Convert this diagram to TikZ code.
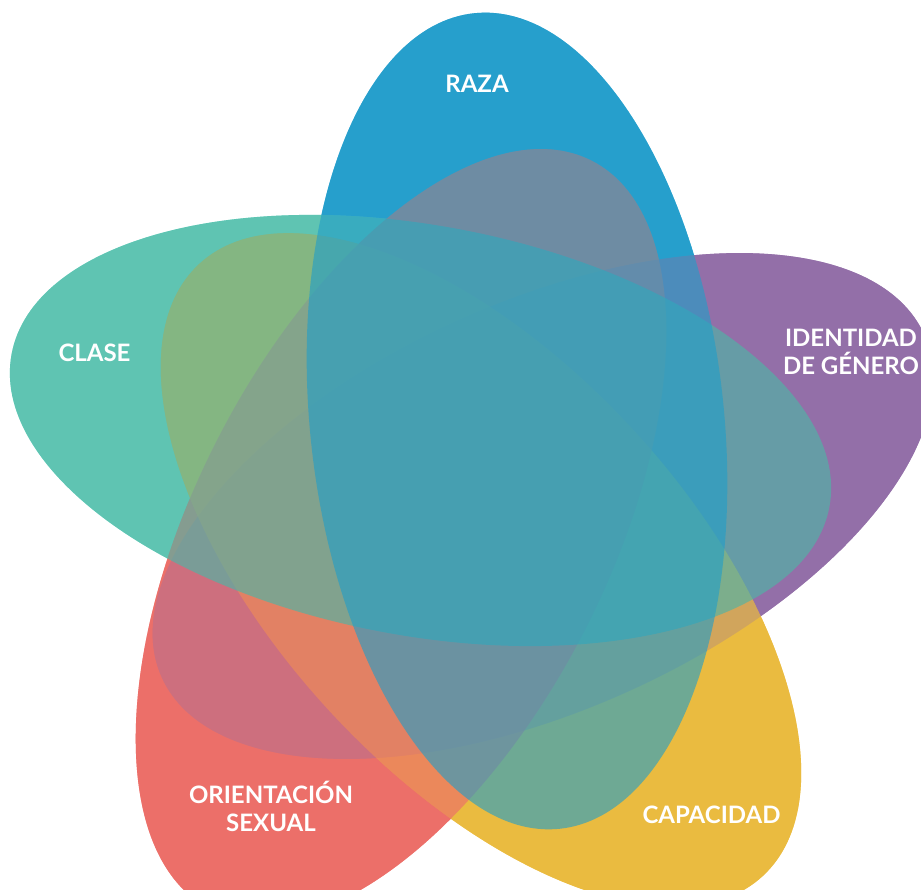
\documentclass[tikz,border=0pt]{standalone}
\usepackage{fontspec}
\setmainfont{Lato}
\definecolor{razablue}{HTML}{2FA3D5}
\definecolor{razaglass}{HTML}{229EC8}
\definecolor{claseteal}{HTML}{7CE3CE}
\definecolor{claseglass}{HTML}{50B4A5}
\definecolor{generopurple}{HTML}{936FA8}
\definecolor{orientred}{HTML}{EC6F69}
\definecolor{capyellow}{HTML}{EABB40}
\begin{document}
\begin{tikzpicture}[x=1pt,y=1pt,
	see through/.style = {fill opacity=#1},
	tag/.style = {text=white, font=\bfseries\fontsize{24}{28}\selectfont, align=center, inner sep=0pt}]
	\useasboundingbox (0,0) rectangle (921,889);
	\clip (0,0) rectangle (921,889);
	% solid layer, topmost petal first
	\fill[razablue] (517,468) ellipse [x radius=410, y radius=207, rotate=96];
	\fill[claseteal] (420.5,458.5) ellipse [x radius=416, y radius=205, rotate=-10.6];
	\fill[orientred] (401,354) ellipse [x radius=420, y radius=207, rotate=63];
	\fill[capyellow] (481,319) ellipse [x radius=416, y radius=207, rotate=-47.4];
	\fill[generopurple] (543,383) ellipse [x radius=418, y radius=204, rotate=24.2];
	% see-through layer
	\fill[generopurple,see through=0.7] (543,383) ellipse [x radius=418, y radius=204, rotate=24.2];
	\fill[capyellow,see through=0.72] (481,319) ellipse [x radius=416, y radius=207, rotate=-47.4];
	\fill[orientred,see through=0.66] (401,354) ellipse [x radius=420, y radius=207, rotate=63];
	\fill[claseglass,see through=0.66] (420.5,458.5) ellipse [x radius=416, y radius=205, rotate=-10.6];
	\fill[razaglass,see through=0.62] (517,468) ellipse [x radius=410, y radius=207, rotate=96];
	
	\node[tag] (raza) at (477,805) {RAZA};
	\node[tag] (clase) at (94.5,536) {CLASE};
	\node[tag] (genero) at (851,537) {IDENTIDAD\\DE GÉNERO};
	\node[tag] (orientacion) at (271,83) {ORIENTACIÓN\\SEXUAL};
	\node[tag] (capacidad) at (711.5,74) {CAPACIDAD};
\end{tikzpicture}
\end{document}
